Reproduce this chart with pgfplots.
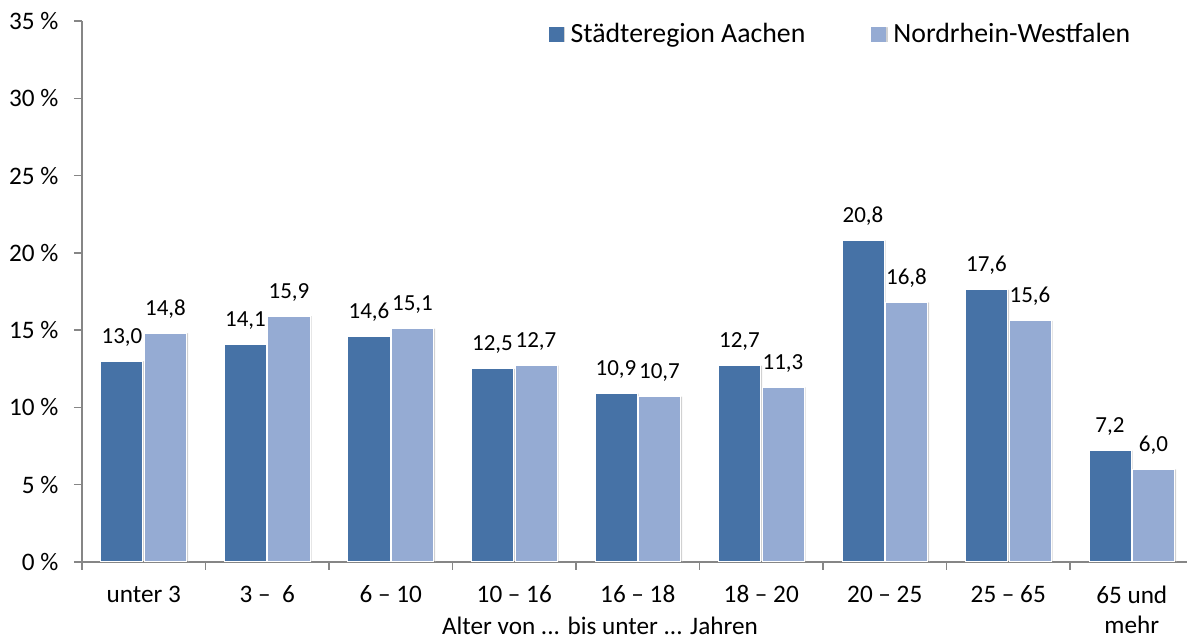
\documentclass[11pt,border=0pt]{standalone}
\usepackage{fontspec}
\setmainfont{Carlito}
\usepackage{pgfplots}
\pgfplotsset{compat=1.18}
\usetikzlibrary{shadows}
\definecolor{cDark}{RGB}{70,114,166}
\definecolor{cLight}{RGB}{149,171,211}
\definecolor{axgray}{RGB}{134,134,134}
\newcommand\fst{\fontsize{12.6pt}{15.2pt}\selectfont}
\newcommand\fsl{\fontsize{13.9pt}{16pt}\selectfont}
\newcommand\fsd{\fontsize{11.5pt}{13pt}\selectfont}
\begin{document}
\begin{tikzpicture}
\useasboundingbox (-41pt,-39pt) rectangle (552.5pt,281pt);
\begin{axis}[
  at={(0,0)}, anchor=south west,
  scale only axis, width=555.75pt, height=270.5pt,
  ybar=0.75pt, bar width=21pt,
  xmin=-0.5, xmax=8.5, ymin=0, ymax=35,
  axis x line*=bottom, axis y line*=left,
  axis line style={draw=axgray, line width=0.75pt, -},
  tick align=outside,
  major tick length=4pt, minor tick length=4pt,
  xtick={0,...,8},
  xticklabels={unter 3, 3 –\ \ 6, 6 – 10, 10 – 16, 16 – 18, 18 – 20, 20 – 25, 25 – 65, {65 und\\mehr}},
  xticklabel style={align=center, font=\fst, yshift=-4pt},
  x tick style={draw=none},
  minor xtick={-0.5,0.5,1.5,...,8.5},
  minor x tick style={draw=axgray, line width=0.75pt},
  ytick={0,5,...,35},
  y tick style={draw=axgray, line width=0.75pt},
  yticklabel={\pgfmathprintnumber{\tick}\ \%},
  /pgf/number format/assume math mode=true,
  yticklabel style={font=\fst, xshift=-4pt},
  xlabel={Alter von ... bis unter ... Jahren},
  xlabel style={at={(rel axis cs:0.466,0)}, anchor=center, yshift=-32pt, font=\fst},
  nodes near coords={\pgfmathprintnumber[fixed,fixed zerofill,precision=1,use comma]{\pgfplotspointmeta}},
  nodes near coords style={font=\fsd, black, anchor=base, yshift=9pt},
  legend style={at={(0.414,1.011)}, anchor=north west, draw=none, fill=none,
    legend columns=2, font=\fsl,
    /tikz/every odd column/.append style={column sep=1.5pt},
    /tikz/every even column/.append style={column sep=31pt}},
  legend image code/.code={\fill[#1,draw=none] (0pt,-3.75pt) rectangle (7.5pt,3.75pt);},
  legend cell align=left,
]
\addplot[fill=cDark, draw=white, line width=0.5pt,
  drop shadow={shadow xshift=0.8pt, shadow yshift=0pt, opacity=0.18, fill=black}] coordinates {
  (0,13.0) (1,14.1) (2,14.6) (3,12.5) (4,10.9) (5,12.7) (6,20.8) (7,17.6) (8,7.2)};
\addplot[fill=cLight, draw=white, line width=0.5pt,
  drop shadow={shadow xshift=0.8pt, shadow yshift=0pt, opacity=0.18, fill=black}] coordinates {
  (0,14.8) (1,15.9) (2,15.1) (3,12.7) (4,10.7) (5,11.3) (6,16.8) (7,15.6) (8,6.0)};
\legend{Städteregion Aachen, Nordrhein-Westfalen}
\end{axis}
\end{tikzpicture}
\end{document}
